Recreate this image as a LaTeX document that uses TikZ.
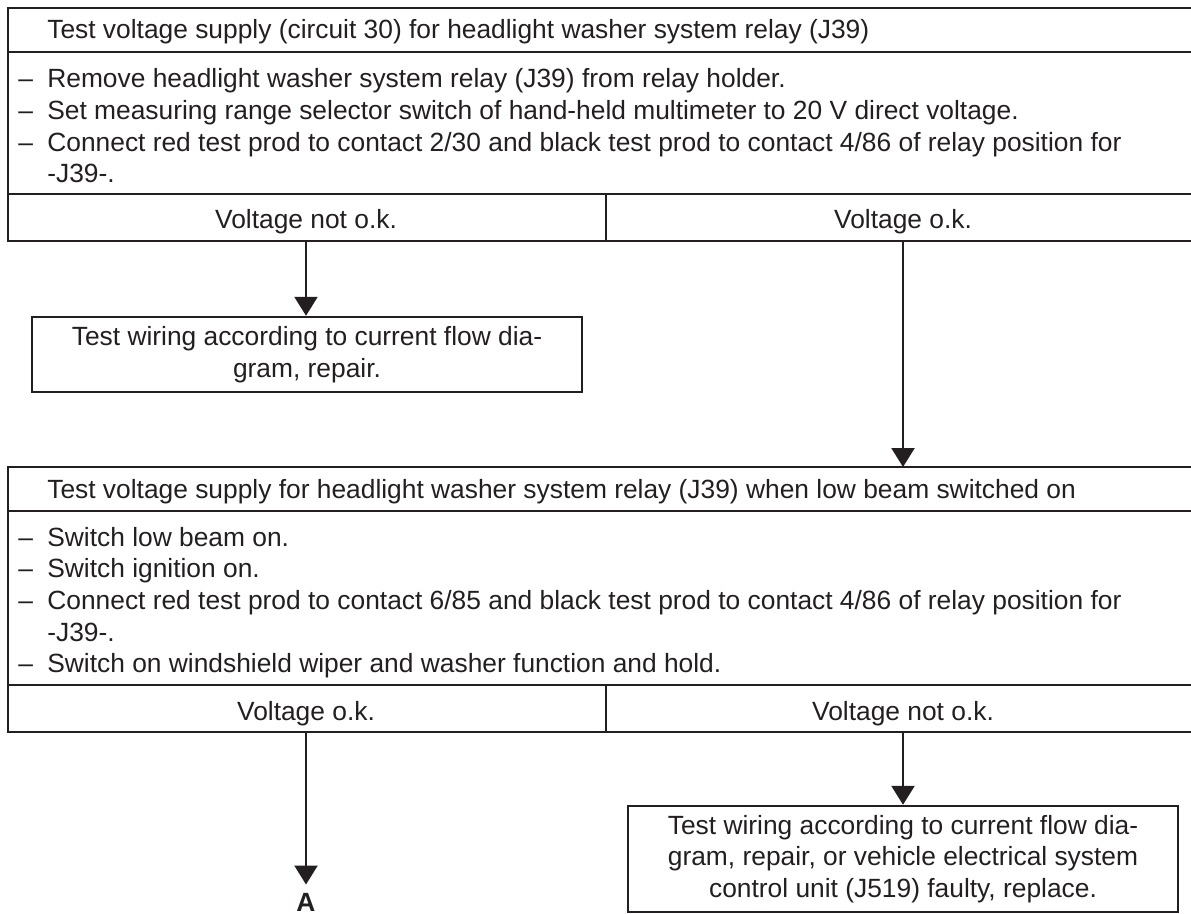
\documentclass[tikz,border=0pt]{standalone}
\usepackage{fontspec}
\setmainfont{Liberation Sans}
\usetikzlibrary{positioning,arrows.meta,calc}
\definecolor{InkGray}{RGB}{35,31,32}
\newcommand{\dashitem}{\makebox[0.58cm][l]{--}}
\tikzset{tableline/.style={InkGray,line width=1.4pt},
	flow/.style={InkGray,line width=1.4pt,-{Triangle[width=0.46cm,length=0.38cm]}},
	txt/.style={inner sep=0pt,text=InkGray,font=\fontsize{15pt}{18pt}\selectfont},
	actionbox/.style={txt,draw=InkGray,line width=1.4pt,align=center}}

\begin{document}
\begin{tikzpicture}
	\useasboundingbox (0,0) rectangle (23.82,-18.28);
	% first test: circuit 30
	\draw[tableline] (23.82,-0.16) -- (0.16,-0.16) -- (0.16,-4.82) -- (23.82,-4.82);
	\draw[tableline] (0.16,-1.04) -- (23.82,-1.04);
	\draw[tableline] (0.16,-3.88) -- (23.82,-3.88);
	\draw[tableline] (12.12,-3.88) -- (12.12,-4.82);
	\node[txt,anchor=base west] (head1) at (0.94,-0.77) {Test voltage supply (circuit 30) for headlight washer system relay (J39)};
	\node[txt,anchor=base west] (step1a) at (0.36,-1.76) {\dashitem Remove headlight washer system relay (J39) from relay holder.};
	\node[txt,anchor=base west] (step1b) at (0.36,-2.395) {\dashitem Set measuring range selector switch of hand-held multimeter to 20 V direct voltage.};
	\node[txt,anchor=base west] (step1c) at (0.36,-3.03) {\dashitem Connect red test prod to contact 2/30 and black test prod to contact 4/86 of relay position for};
	\node[txt,anchor=base west] (step1d) at (0.94,-3.66) {-J39-.};
	\node[txt,anchor=base] (notok1) at (6.12,-4.58) {Voltage not o.k.};
	\node[txt,anchor=base] (ok1) at (18.06,-4.58) {Voltage o.k.};
	\coordinate (out1l) at (6.12,-4.82);
	\coordinate (out1r) at (18.06,-4.82);

	\node[actionbox,minimum width=11cm,minimum height=1.5cm] (wiring1) at (6.14,-7.09) {Test wiring according to current flow dia-\\gram, repair.};
	\draw[flow] (out1l) -- (out1l |- wiring1.north);

	% second test: low beam on
	\draw[tableline] (23.82,-9.34) -- (0.16,-9.34) -- (0.16,-14.64) -- (23.82,-14.64);
	\draw[tableline] (0.16,-10.22) -- (23.82,-10.22);
	\draw[tableline] (0.16,-13.70) -- (23.82,-13.70);
	\draw[tableline] (12.12,-13.70) -- (12.12,-14.64);
	\coordinate (in2) at (18.06,-9.34);
	\draw[flow] (out1r) -- (in2);
	\node[txt,anchor=base west] (head2) at (0.94,-9.96) {Test voltage supply for headlight washer system relay (J39) when low beam switched on};
	\node[txt,anchor=base west] (step2a) at (0.36,-10.92) {\dashitem Switch low beam on.};
	\node[txt,anchor=base west] (step2b) at (0.36,-11.554) {\dashitem Switch ignition on.};
	\node[txt,anchor=base west] (step2c) at (0.36,-12.188) {\dashitem Connect red test prod to contact 6/85 and black test prod to contact 4/86 of relay position for};
	\node[txt,anchor=base west] (step2d) at (0.94,-12.822) {-J39-.};
	\node[txt,anchor=base west] (step2e) at (0.36,-13.456) {\dashitem Switch on windshield wiper and washer function and hold.};
	\node[txt,anchor=base] (ok2) at (6.12,-14.41) {Voltage o.k.};
	\node[txt,anchor=base] (notok2) at (18.06,-14.41) {Voltage not o.k.};
	\coordinate (out2l) at (6.12,-14.64);
	\coordinate (out2r) at (18.06,-14.64);

	\node[txt,font=\fontsize{15pt}{18pt}\selectfont\bfseries,anchor=base,inner ysep=0.16cm] (markA) at (6.12,-18.22) {A};
	\draw[flow] (out2l) -- (markA.north);
	\node[actionbox,minimum width=11cm,minimum height=2.12cm] (wiring2) at (18.06,-17.18) {Test wiring according to current flow dia-\\gram, repair, or vehicle electrical system\\control unit (J519) faulty, replace.};
	\draw[flow] (out2r) -- (wiring2.north);
\end{tikzpicture}
\end{document}
